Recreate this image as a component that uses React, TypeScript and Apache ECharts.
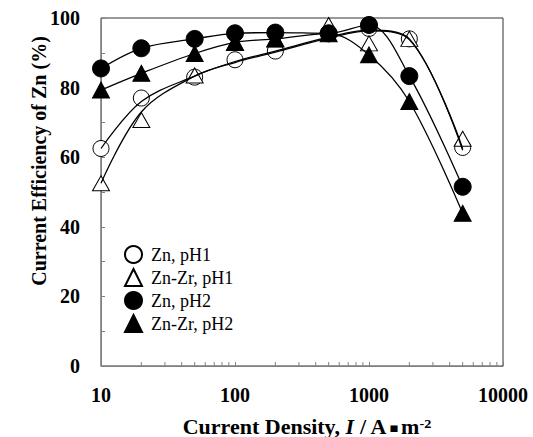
import React, { useEffect, useRef } from 'react';
import * as echarts from 'echarts';

// Current density (A/m^2) at which the efficiencies were measured
const currentDensity = [10, 20, 50, 100, 200, 500, 1000, 2000, 5000];

// Measured points (%)
const znPH1 = [62.5, 77, 83, 88, 90.5, 95.5, 97, 94, 62.8];
const znZrPH1 = [52.5, 70.7, 83.5, 92.8, 93.8, 98, 92.7, 94, 65.3];
const znPH2 = [85.5, 91.3, 94, 95.6, 95.8, 95.6, 98, 83.3, 51.5];
const znZrPH2 = [79.3, 84.1, 89.8, 93, 94, 95.5, 89.4, 76, 43.9];

// Fitted curves (%)
const znPH1Curve = [62.5, 76, 83.3, 87.5, 90.5, 94.5, 96.5, 94, 62];
const znZrPH1Curve = [52.5, 73, 83.3, 87.2, 90.2, 94.2, 96.3, 93.8, 62.5];
const znPH2Curve = [85.5, 91.3, 94, 95.6, 95.8, 95.6, 98, 83.3, 51.5];
const znZrPH2Curve = [79.3, 84.1, 89.8, 93, 94, 95.5, 89.4, 76, 43.9];

const seriesNames = ['Zn, pH1', 'Zn-Zr, pH1', 'Zn, pH2', 'Zn-Zr, pH2'];
const xTickLabels = [10, 100, 1000, 10000];
const yTickLabels = [0, 20, 40, 60, 80, 100];
const minorTickValues = [20, 30, 40, 50, 60, 70, 80, 90, 200, 300, 400, 500, 600, 700, 800, 900, 2000, 3000, 4000, 5000, 6000, 7000, 8000, 9000];

const FONT = 'Liberation Serif';

const zip = (ys: number[]) => currentDensity.map((x, i) => [x, ys[i]]);

export default function App() {
  const ref = useRef<HTMLDivElement>(null);
  useEffect(() => {
    const chart = echarts.init(ref.current!, null, { renderer: 'svg' });
    const markerSeries = (name: string, ys: number[], symbol: string, size: any, filled: boolean) => ({
      type: 'scatter',
      name,
      data: zip(ys),
      symbol,
      symbolSize: size,
      z: filled ? 3 : 2,
      itemStyle: filled
        ? { color: '#000', borderColor: '#000', borderWidth: 1, opacity: 1 }
        : { color: '#fff', borderColor: '#000', borderWidth: 1, opacity: 1 },
      emphasis: { disabled: true },
    });
    const curveSeries = (name: string, ys: number[]) => ({
      type: 'line',
      name,
      data: zip(ys),
      smooth: 0.35,
      symbol: 'none',
      z: 4,
      lineStyle: { color: '#000', width: 1.3 },
      emphasis: { disabled: true },
    });
    chart.setOption({
      animation: false,
      backgroundColor: '#fff',
      grid: { left: 101, top: 18, right: 30, bottom: 71, show: true, borderColor: '#333', borderWidth: 1, containLabel: false },
      xAxis: {
        type: 'log',
        logBase: 10,
        min: 10,
        max: 10000,
        axisLine: { lineStyle: { color: '#808080', width: 1 } },
        axisTick: { show: true, inside: true, length: 4, lineStyle: { color: '#808080' } },
        splitLine: { show: false },
        axisLabel: {
          fontFamily: FONT,
          fontWeight: 'bold',
          fontSize: 20,
          color: '#000',
          margin: 19,
          formatter: (v: number) => (xTickLabels.some((t) => Math.abs(t - v) < 1e-6 * t) ? String(Math.round(v)) : ''),
        },
      },
      yAxis: {
        type: 'value',
        min: 0,
        max: 100,
        interval: 10,
        axisLine: { show: true, lineStyle: { color: '#808080', width: 1 } },
        axisTick: { show: true, inside: true, length: 4, lineStyle: { color: '#808080' } },
        splitLine: { show: false },
        axisLabel: {
          fontFamily: FONT,
          fontWeight: 'bold',
          fontSize: 20,
          color: '#000',
          margin: 21,
          formatter: (v: number) => (yTickLabels.includes(v) ? String(v) : ''),
        },
      },
      legend: {
        orient: 'vertical',
        left: 124,
        top: 245,
        padding: 0,
        itemGap: 4,
        itemWidth: 17,
        itemHeight: 17,
        selectedMode: false,
        data: seriesNames,
        textStyle: { fontFamily: FONT, fontSize: 18, color: '#000', padding: [0, 0, 0, 4] },
      },
      graphic: [
        {
          type: 'text',
          x: 39,
          y: 161,
          rotation: Math.PI / 2,
          style: {
            text: 'Current Efficiency of Zn (%)',
            font: `bold 20px ${FONT}`,
            fill: '#000',
            align: 'center',
            verticalAlign: 'middle',
          },
        },
        {
          type: 'text',
          x: 307,
          y: 427,
          scaleX: 1.1,
          style: {
            text: '{b|Current Density, }{i|I}{b| / A}{d|▪}{b|m}{s|-2}',
            align: 'center',
            verticalAlign: 'middle',
            fill: '#000',
            rich: {
              b: { fontFamily: FONT, fontWeight: 'bold', fontSize: 20, lineHeight: 20, fill: '#000' },
              i: { fontFamily: FONT, fontWeight: 'bold', fontStyle: 'italic', fontSize: 20, lineHeight: 20, fill: '#000' },
              d: { fontFamily: 'DejaVu Sans', fontSize: 13, lineHeight: 20, fill: '#000', padding: [0, 2, 0, 2] },
              s: { fontFamily: FONT, fontWeight: 'bold', fontSize: 13, lineHeight: 13, verticalAlign: 'top', fill: '#000' },
            },
          },
        },
      ],
      series: [
        markerSeries(seriesNames[0], znPH1, 'circle', 16, false),
        markerSeries(seriesNames[1], znZrPH1, 'triangle', [17, 15], false),
        markerSeries(seriesNames[2], znPH2, 'circle', 17, true),
        markerSeries(seriesNames[3], znZrPH2, 'triangle', [17, 16], true),
        curveSeries('fit Zn, pH1', znPH1Curve),
        curveSeries('fit Zn-Zr, pH1', znZrPH1Curve),
        curveSeries('fit Zn, pH2', znPH2Curve),
        curveSeries('fit Zn-Zr, pH2', znZrPH2Curve),
        {
          type: 'custom',
          name: 'minor ticks',
          silent: true,
          z: 5,
          data: minorTickValues.map((v) => [v, 0]),
          renderItem: (_params: any, api: any) => {
            const p = api.coord([api.value(0), api.value(1)]);
            return {
              type: 'line',
              shape: { x1: p[0], y1: p[1], x2: p[0], y2: p[1] - 4 },
              style: { stroke: '#808080', lineWidth: 1 },
            };
          },
        },
      ],
    });
    return () => chart.dispose();
  }, []);
  return (
    <div
      ref={ref}
      style={{ position: 'fixed', left: 0, top: 0, width: 533, height: 437, background: '#fff' }}
    />
  );
}
